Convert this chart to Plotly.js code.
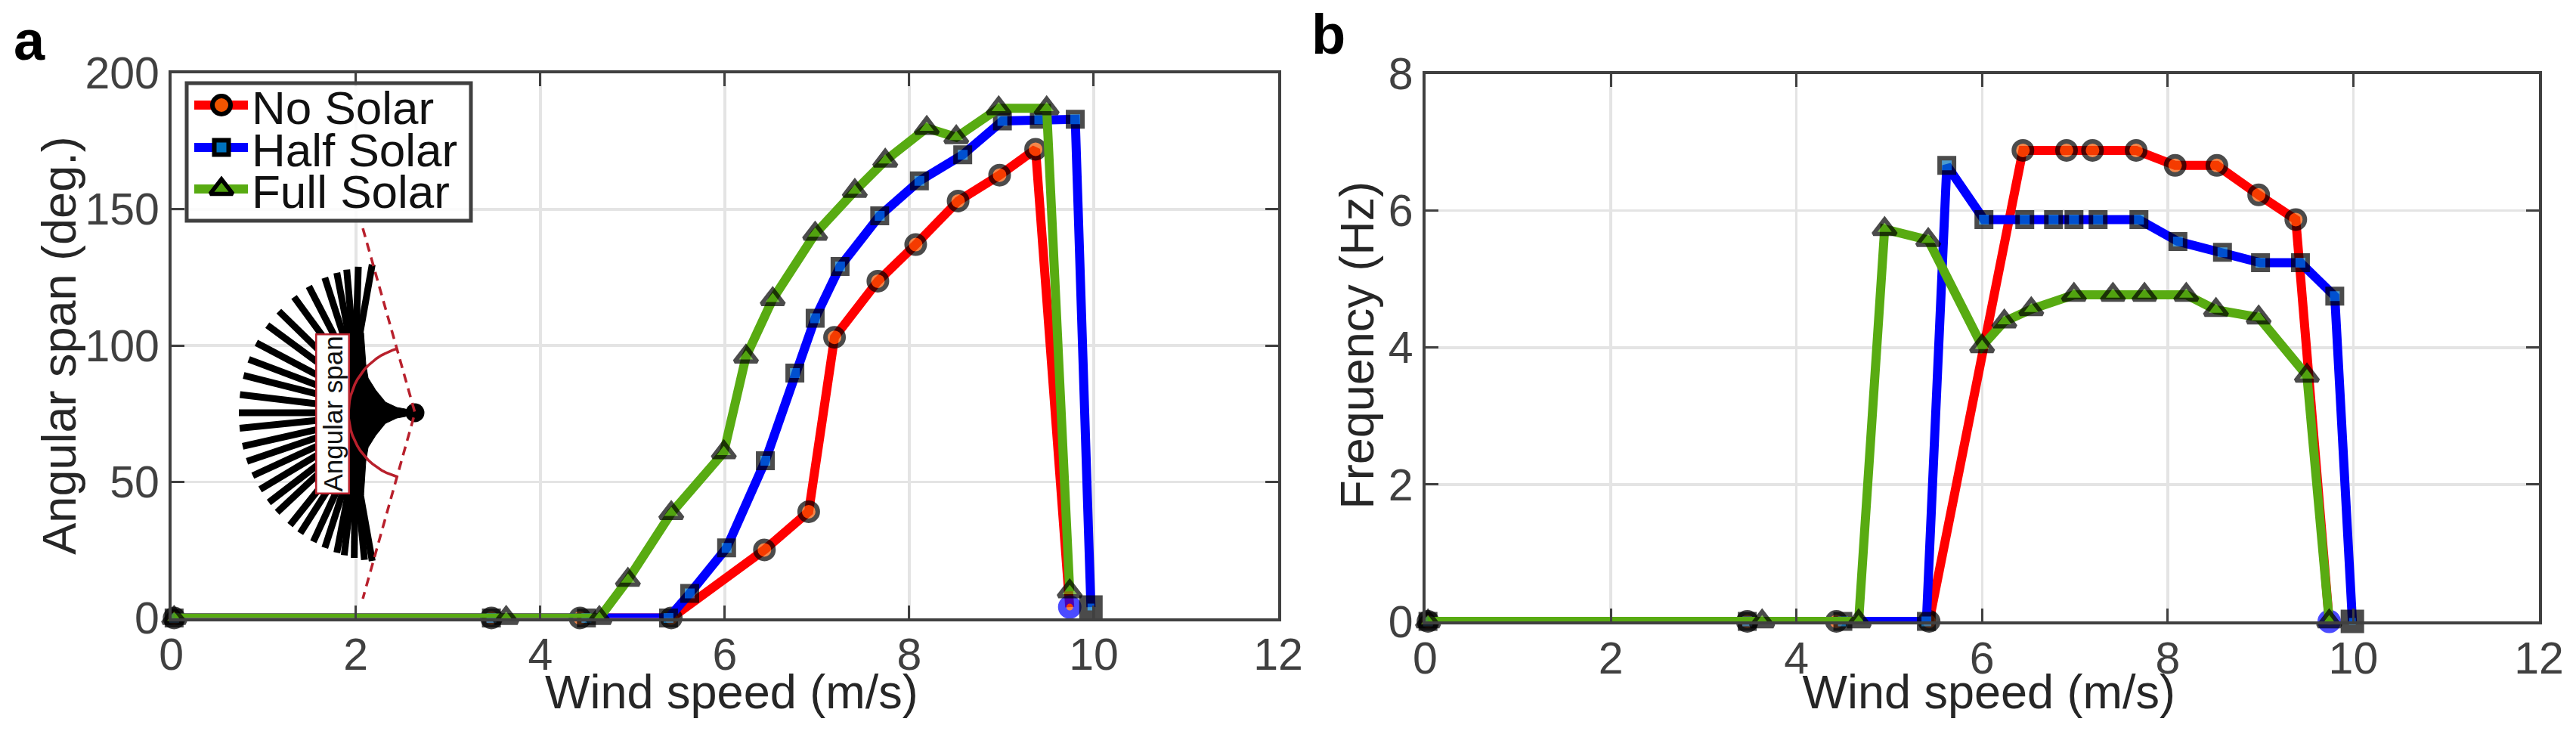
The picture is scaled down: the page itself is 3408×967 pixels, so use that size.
<!DOCTYPE html>
<html><head><meta charset="utf-8">
<script src="https://cdn.plot.ly/plotly-3.0.1.min.js"></script>
<style>html,body{margin:0;padding:0;background:#fff}</style></head>
<body><div id="chart" style="width:3408px;height:967px"></div>
<script>
const seriesNames = ['No Solar','Half Solar','Full Solar'];
const xTicks = [0,2,4,6,8,10,12];
const yTicksA = [0,50,100,150,200];
const yTicksB = [0,2,4,6,8];

// Panel a: angular span
const noSolarWindA = [0.03,3.47,4.43,5.42,6.43,6.91,7.19,7.66,8.07,8.53,8.98,9.37,9.74];
const noSolarSpan  = [0,0,0,0,25,39,103,123.6,137,153,162.5,172,4];
const halfSolarWindA = [0.03,3.47,4.5,5.39,5.62,6.02,6.44,6.76,6.98,7.25,7.68,8.11,8.58,9.01,9.41,9.8,9.97];
const halfSolarSpan  = [0,0,0,0,9,25.7,57.7,89.9,110,129,147.6,160.4,170,182.4,183,183,4];
const fullSolarWindA = [0.03,3.63,4.64,4.95,5.42,5.99,6.23,6.52,6.98,7.41,7.74,8.19,8.51,8.97,9.49,9.74];
const fullSolarSpan  = [0,0,0,14,38.5,60.8,95.9,117,141,156.7,167.8,179.8,176.4,187,187,9.8];

// Panel b: frequency
const noSolarWindB = [0.03,3.47,4.43,5.43,6.44,6.91,7.19,7.66,8.08,8.53,8.98,9.38,9.74];
const noSolarFreq  = [0,0,0,0,6.88,6.88,6.88,6.88,6.66,6.66,6.23,5.87,0];
const halfSolarWindB = [0.03,3.47,4.5,5.40,5.62,6.02,6.46,6.77,6.99,7.25,7.69,8.11,8.59,9.0,9.43,9.8,9.99];
const halfSolarFreq  = [0,0,0,0,6.66,5.87,5.87,5.87,5.87,5.87,5.87,5.55,5.39,5.24,5.24,4.75,0];
const fullSolarWindB = [0.03,3.63,4.67,4.95,5.42,6.0,6.24,6.53,6.99,7.41,7.75,8.2,8.52,8.98,9.5,9.74];
const fullSolarFreq  = [0,0,0,5.73,5.57,4.02,4.38,4.56,4.77,4.77,4.77,4.77,4.55,4.44,3.59,0];

// Inset fan: blade tip angles (deg., measured from the leftward direction)
const fanAngles = [84,78.6,74,70,65,58,51,43,36,28,21,14.5,7,0,-6,-13,-19,-25,-31,-37,-42,-49,-54,-60,-65,-70,-73,-77,-81,-84];
const hubX = [461,481,484,487,497,510,525,536,550,536,525,510,497,487,484,481,461];
const hubY = [440,440,482,500,516,532,539,541,546,551,553,560,576,592,610,655,655];

const W = 3408, H = 967;
const FONT = '"Liberation Sans", Arial, sans-serif';
const TICKC = '#404040', TEXTC = '#262626', GRID = '#e4e4e4';
const RED = '#ff0000', BLUE = '#0000ff', GREEN = '#58ab12';
const FILL_R = '#f25500', FILL_B = '#0072bd', FILL_G = '#4fa00f';
const LINE_W = 12;

function styleArr(n, normal, last){ const a = new Array(n).fill(normal); a[n-1] = last; return a; }

function series(x, y, color, fill, mk, xa, ya, name, last){
  const n = x.length;
  const end = last || {color:'#000000', width:mk.width, size:mk.size};
  return {
    x, y, name, type:'scatter', mode:'lines+markers', xaxis:xa, yaxis:ya, cliponaxis:false, showlegend:false,
    line:{color, width:LINE_W},
    marker:{symbol:mk.symbol, color:fill, size: styleArr(n,mk.size,end.size),
      line:{color: styleArr(n,'#000000',end.color), width: styleArr(n,mk.width,end.width)}}
  };
}
const MK_CIRCLE = {symbol:'circle', size:24, width:6};
const MK_SQUARE = {symbol:'square', size:19, width:6};
const MK_TRI = {symbol:'triangle-up', size:26, width:5.5};
const END_CIRCLE = {color:BLUE, width:11, size:20};
const END_SQUARE = {color:'#000000', width:11, size:20};

const traces = [
  series(noSolarWindA,noSolarSpan,RED,FILL_R,MK_CIRCLE,'x','y',seriesNames[0],END_CIRCLE),
  series(halfSolarWindA,halfSolarSpan,BLUE,FILL_B,MK_SQUARE,'x','y',seriesNames[1],END_SQUARE),
  series(fullSolarWindA,fullSolarSpan,GREEN,FILL_G,MK_TRI,'x','y',seriesNames[2]),
  series(noSolarWindB,noSolarFreq,RED,FILL_R,MK_CIRCLE,'x2','y2',seriesNames[0],END_CIRCLE),
  series(halfSolarWindB,halfSolarFreq,BLUE,FILL_B,MK_SQUARE,'x2','y2',seriesNames[1],END_SQUARE),
  series(fullSolarWindB,fullSolarFreq,GREEN,FILL_G,MK_TRI,'x2','y2',seriesNames[2])
];

// Inset drawing, on an overlay axis that spans the whole figure
const CX = 513, CY = 546, TIP_R = 197, PX = 549;
const fx = [], fy = [];
fanAngles.forEach(t => {
  const r = t*Math.PI/180;
  fx.push(CX - TIP_R*Math.cos(r), 470, null);
  fy.push(CY - TIP_R*Math.sin(r), CY - t/84*70, null);
});
const overlay = {xaxis:'x3', yaxis:'y3', showlegend:false, hoverinfo:'skip', type:'scatter'};
traces.push(Object.assign({}, overlay, {x:fx, y:fy, mode:'lines', line:{color:'#000', width:9}}));
traces.push(Object.assign({}, overlay, {x:hubX, y:hubY, mode:'lines', fill:'toself', fillcolor:'#000', line:{color:'#000', width:1}}));
traces.push(Object.assign({}, overlay, {x:[PX], y:[CY], mode:'markers', marker:{color:'#000', size:25}}));
const dashRed = '#b8202c';
traces.push(Object.assign({}, overlay, {x:[480,PX,480], y:[302,CY,792], mode:'lines', line:{color:dashRed, width:3.5, dash:'12px,8px'}}));
const arcX = [], arcY = [];
for (let a=-75; a<=75; a+=5){ const r=a*Math.PI/180; arcX.push(PX-88*Math.cos(r)); arcY.push(CY-88*Math.sin(r)); }
traces.push(Object.assign({}, overlay, {x:arcX, y:arcY, mode:'lines', line:{color:dashRed, width:3.5}}));

// Legend, drawn by hand because the row pitch is tighter than the built-in legend allows
const legendRows = [139,195,250], legendText = [142,198,253];
const legendStyle = [[RED,FILL_R,MK_CIRCLE],[BLUE,FILL_B,MK_SQUARE],[GREEN,FILL_G,MK_TRI]];
legendRows.forEach((ry,i)=>{
  const s = legendStyle[i];
  traces.push(Object.assign({}, overlay, {x:[257,328], y:[ry,ry], mode:'lines', line:{color:s[0], width:LINE_W}}));
  traces.push(Object.assign({}, overlay, {x:[293], y:[ry], mode:'markers', marker:{symbol:s[2].symbol, color:s[1], size:s[2].size, line:{color:'#000', width:s[2].width}}}));
});

const axisBase = {
  ticks:'inside', ticklen:17, tickwidth:3, tickcolor:TICKC, showline:true, linecolor:TICKC, linewidth:4, mirror:'ticks',
  showgrid:true, gridcolor:GRID, gridwidth:3.5, zeroline:false, fixedrange:true,
  tickfont:{family:FONT, size:59, color:TICKC}
};
const xAxis = (domain, anchor) => Object.assign({}, axisBase, {
  domain, anchor, range:[0,12], tickmode:'array', tickvals:xTicks, ticktext:xTicks.map(String), ticklabelstandoff:-6,
  title:{text:'Wind speed (m/s)', font:{family:FONT, size:63, color:TEXTC}, standoff:0}
});
const yAxis = (domain, anchor, range, vals, text) => Object.assign({}, axisBase, {
  domain, anchor, range, tickmode:'array', tickvals:vals, ticktext:vals.map(String),
  title:{text, font:{family:FONT, size:63, color:TEXTC}, standoff:0}
});

const layout = {
  width:W, height:H, margin:{l:0,r:0,t:0,b:0}, paper_bgcolor:'#fff', plot_bgcolor:'rgba(0,0,0,0)', showlegend:false,
  font:{family:FONT},
  xaxis: xAxis([226.7/W,1691/W],'y'),
  yaxis: yAxis([1-817.5/H,1-96.5/H],'x',[0,200],yTicksA,'Angular span (deg.)'),
  xaxis2: xAxis([1885.5/W,3359/W],'y2'),
  yaxis2: yAxis([1-822/H,1-97.5/H],'x2',[0,8],yTicksB,'Frequency (Hz)'),
  xaxis3:{domain:[0,1], range:[0,W], visible:false, anchor:'y3', fixedrange:true},
  yaxis3:{domain:[0,1], range:[H,0], visible:false, anchor:'x3', fixedrange:true},
  shapes:[{type:'rect', xref:'x3', yref:'y3', x0:247, x1:623, y0:110, y1:292, layer:'below',
           line:{color:'#404040', width:5}, fillcolor:'rgba(255,255,255,0.85)'}],
  annotations:[
    {xref:'x3', yref:'y3', x:440, y:548, text:'Angular span', textangle:-90, showarrow:false,
     font:{family:FONT, size:35, color:'#111'}, bgcolor:'#fff', bordercolor:dashRed, borderwidth:2.5, borderpad:1},
    {xref:'paper', yref:'paper', x:16/W, y:1-54/H, xanchor:'left', yanchor:'middle', text:'<b>a</b>', showarrow:false,
     font:{family:FONT, size:74, color:'#000'}},
    {xref:'paper', yref:'paper', x:1733/W, y:1-46/H, xanchor:'left', yanchor:'middle', text:'<b>b</b>', showarrow:false,
     font:{family:FONT, size:74, color:'#000'}}
  ].concat(seriesNames.map((t,i)=>({xref:'x3', yref:'y3', x:331, y:legendText[i], xanchor:'left', yanchor:'middle',
     text:t, showarrow:false, font:{family:FONT, size:62, color:'#111'}})))
};

// The reference's axis titles sit tighter against the tick labels than title.standoff can reach.
const titleNudges = {'.xtitle':[9,-17], '.x2title':[9,-17], '.ytitle':[8,0], '.y2title':[0,-3]};
Plotly.newPlot('chart', traces, layout, {displayModeBar:false, staticPlot:true}).then(() => {
  Object.keys(titleNudges).forEach(sel => {
    const el = document.querySelector('#chart ' + sel);
    if (!el) return;
    const [dx, dy] = titleNudges[sel];
    const t = el.getAttribute('transform') || '';
    el.setAttribute('transform', 'translate(' + dx + ',' + dy + ') ' + t);
  });
});
</script></body></html>
